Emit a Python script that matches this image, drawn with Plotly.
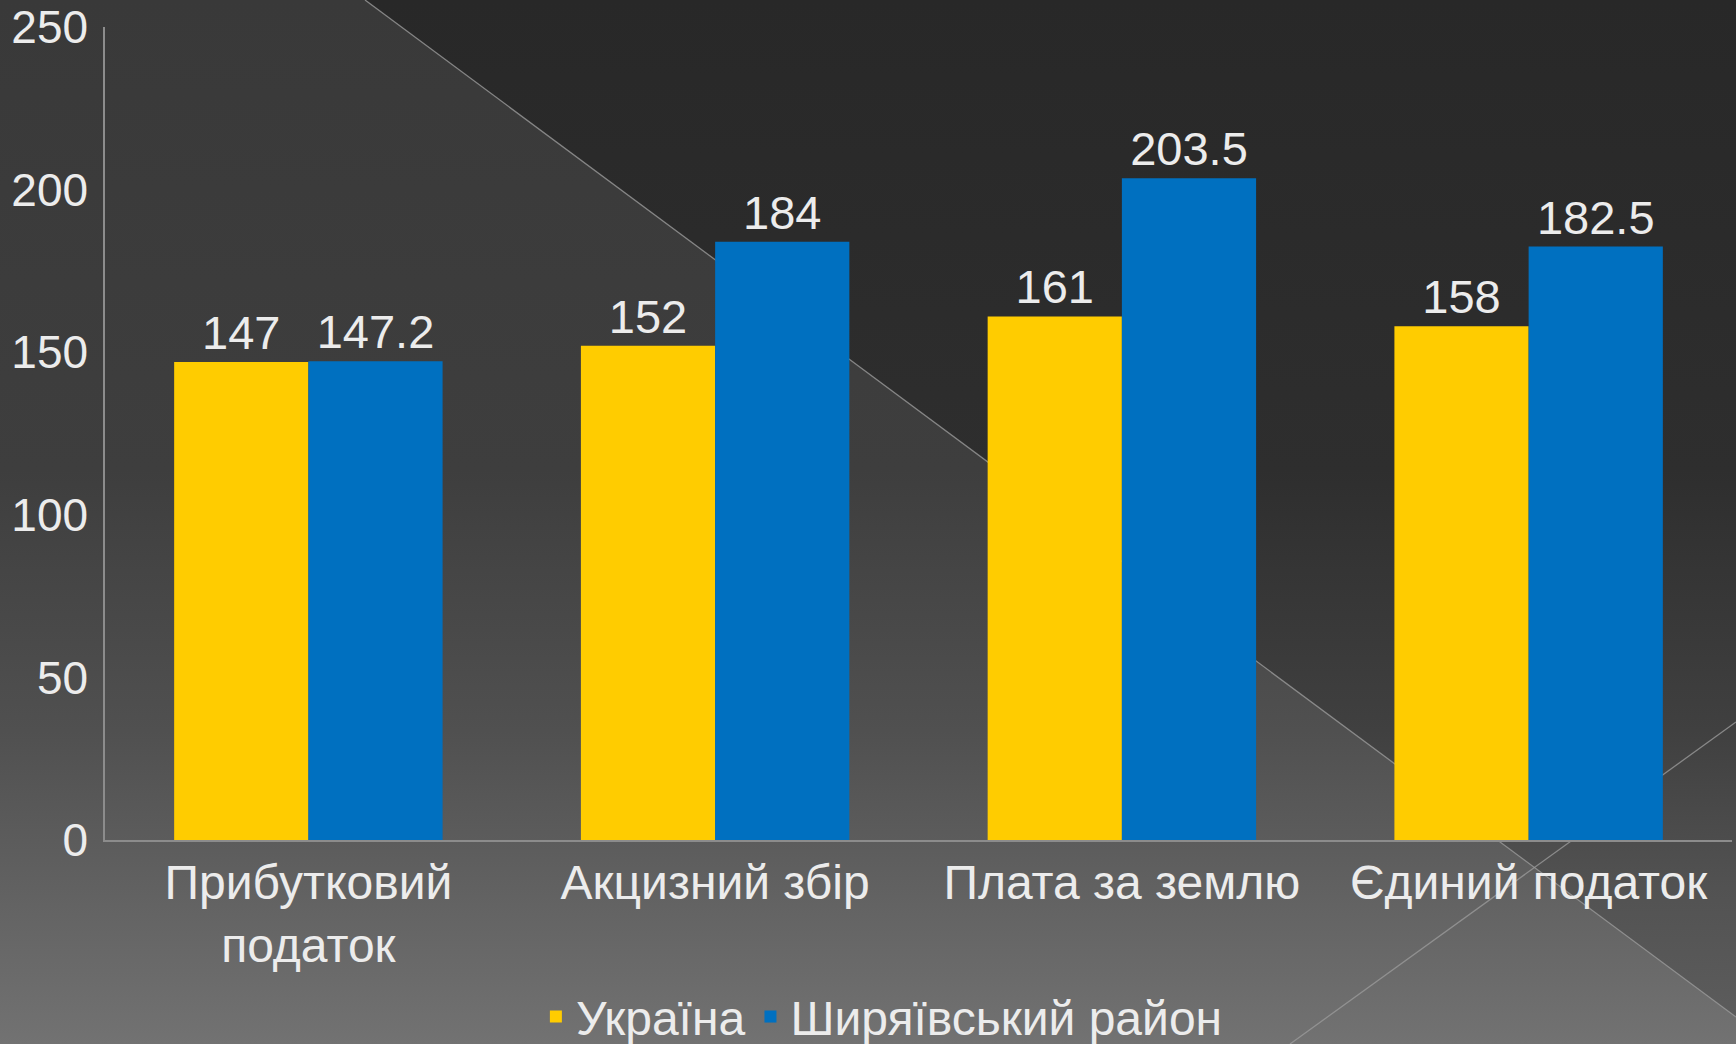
import base64
import plotly.graph_objects as go

# ---- data ----
categories = ["Прибутковий<br>податок", "Акцизний збір", "Плата за землю", "Єдиний податок"]
series_names = ["Україна", "Ширяївський район"]
ukraine = [147, 152, 161, 158]
shyriaiv = [147.2, 184, 203.5, 182.5]
y_ticks = [0, 50, 100, 150, 200, 250]

# ---- style ----
W, H = 1736, 1044
ML, MR, MT, MB = 105, 4, 27, 204
FONT = "Arial, 'Liberation Sans', sans-serif"
TXT = "#ececec"
YELLOW = "#FFCC00"
BLUE = "#0070C0"

# background (decorative gradient + diagonal lines) as inline svg
svg = f'''<svg xmlns="http://www.w3.org/2000/svg" width="{W}" height="{H}" viewBox="0 0 {W} {H}">
<defs>
<linearGradient id="a" x1="0" y1="0" x2="0" y2="{H}" gradientUnits="userSpaceOnUse">
<stop offset="0" stop-color="#393939"/>
<stop offset="0.45" stop-color="#3e3e3e"/>
<stop offset="0.7" stop-color="#505050"/>
<stop offset="0.85" stop-color="#616161"/>
<stop offset="1" stop-color="#727272"/>
</linearGradient>
<linearGradient id="b" x1="0" y1="0" x2="0" y2="{H}" gradientUnits="userSpaceOnUse">
<stop offset="0" stop-color="#282828"/>
<stop offset="0.45" stop-color="#2e2e2e"/>
<stop offset="0.7" stop-color="#404040"/>
<stop offset="0.85" stop-color="#525252"/>
<stop offset="1" stop-color="#5e5e5e"/>
</linearGradient>
</defs>
<rect x="0" y="0" width="{W}" height="{H}" fill="url(#a)"/>
<polygon points="365,0 {W},0 {W},1017" fill="url(#b)"/>
<line x1="365" y1="0" x2="{W}" y2="1017" stroke="#9a9a9a" stroke-width="1.3" stroke-opacity="0.8"/>
<line x1="1290" y1="{H}" x2="{W}" y2="722" stroke="#9a9a9a" stroke-width="1.3" stroke-opacity="0.8"/>
</svg>'''
bg_uri = "data:image/svg+xml;base64," + base64.b64encode(svg.encode("utf-8")).decode("ascii")

pw = W - ML - MR
ph = H - MT - MB

fig = go.Figure()
fig.add_trace(go.Bar(
    name=series_names[0], x=categories, y=ukraine, marker_color=YELLOW,
    marker_line_width=0, text=[f"{v:g}" for v in ukraine], textposition="outside",
    textfont=dict(size=47, color=TXT, family=FONT), cliponaxis=False,
))
fig.add_trace(go.Bar(
    name=series_names[1], x=categories, y=shyriaiv, marker_color=BLUE,
    marker_line_width=0, text=[f"{v:g}" for v in shyriaiv], textposition="outside",
    textfont=dict(size=47, color=TXT, family=FONT), cliponaxis=False,
))

fig.update_layout(
    width=W, height=H,
    margin=dict(l=ML, r=MR, t=MT, b=MB, pad=0, autoexpand=False),
    paper_bgcolor="#3a3a3a",
    plot_bgcolor="rgba(0,0,0,0)",
    barmode="group", bargap=0.34, bargroupgap=0,
    font=dict(family=FONT, size=46, color=TXT),
    showlegend=True,
    legend=dict(
        orientation="h", x=0.508, xanchor="center", xref="container",
        y=0.026, yanchor="middle", yref="container",
        font=dict(size=48, color=TXT, family=FONT),
        bgcolor="rgba(0,0,0,0)", itemwidth=30, tracegroupgap=0,
    ),
    images=[dict(
        source=bg_uri, xref="paper", yref="paper",
        x=-ML / pw, y=1 + MT / ph, sizex=W / pw, sizey=H / ph,
        xanchor="left", yanchor="top", sizing="stretch", layer="below",
    )],
)
fig.update_xaxes(
    showline=True, linecolor="#8c8c8c", linewidth=1.5, automargin=False,
    showgrid=False, ticks="", tickfont=dict(size=48, color=TXT, family=FONT),
    ticklabelstandoff=0,
)
fig.update_yaxes(
    range=[0, 250], tickvals=y_ticks, showline=True, linecolor="#8c8c8c", linewidth=1.5,
    automargin=False,
    showgrid=False, zeroline=False, ticks="", tickfont=dict(size=46, color=TXT, family=FONT),
    ticklabelstandoff=6,
)

fig.write_html(
    "out.html",
    config={"displayModeBar": False},
    post_script="document.body.style.margin='0';document.body.style.overflow='hidden';",
)
